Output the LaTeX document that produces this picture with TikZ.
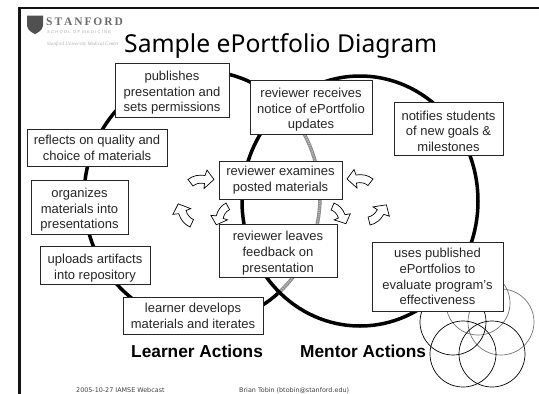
\documentclass[tikz,border=0pt]{standalone}
\usepackage{fontspec}
\setmainfont{Liberation Sans}
\newfontfamily\titlefont{Noto Sans}
\newfontfamily\logofont{Liberation Serif}
\newfontfamily\footfont{DejaVu Sans}
\definecolor{ringgray}{gray}{0.55}
\definecolor{framecol}{gray}{0.08}
\definecolor{logocol}{gray}{0.42}
\definecolor{logolight}{gray}{0.68}
\newcommand{\topstrut}{\rule{0pt}{15pt}}
\tikzset{
  actionbox/.style={draw=black!85,line width=0.75pt,fill=white,align=center,inner sep=0pt,
    font=\fontsize{13}{15.8}\selectfont,text=black!85},
  ring/.style={draw=black,line width=3.5pt},
  grayring/.style={draw=ringgray,line width=3.5pt},
  grayringdash/.style={draw=black!25,line width=1.6pt,dash pattern=on 1pt off 1.2pt},
  venn/.style={draw=black,line width=0.7pt},
  venngray/.style={draw=black!55,line width=0.7pt},
  blockarrow/.style={draw=black,line width=0.7pt,fill=white,line join=miter},
  headlabel/.style={font=\fontsize{17.3}{20}\bfseries\selectfont,text=black,inner sep=0pt,anchor=base west},
  footlabel/.style={font=\footfont\fontsize{6.4}{8}\selectfont,text=black!75,inner sep=0pt,anchor=base west},
}
\newcommand{\arrowshape}{(0,0) .. controls (5,-4) and (11,-5) .. (17,-4) -- (19,-9.5) -- (26,0) -- (16,9) -- (16.5,4) .. controls (12,3) and (8,4) .. (5,6.5) -- cycle}
\begin{document}
\begin{tikzpicture}[x=1pt,y=-1pt]
\useasboundingbox (0,0) rectangle (539,394);
% frame
\fill[framecol] (18,7) rectangle (539,9.3);
\fill[framecol] (18,7) rectangle (20.6,394);
% logo
\fill[logocol!75!black] (27,15.5) -- (43,15.5) -- (43,26) .. controls (42,31) and (37,33) .. (35,34) .. controls (33,33) and (28,31) .. (27,26) -- cycle;
\node[inner sep=0pt,anchor=base west,text=logocol] (logoa) at (46,25.5) {\logofont\bfseries\fontsize{11.5}{12}\selectfont S\,T\,A\,N\,F\,O\,R\,D};
\node[inner sep=0pt,anchor=base west,text=logolight] (logob) at (47,33) {\fontsize{4.2}{5}\selectfont S C H O O L\ \ O F\ \ M E D I C I N E};
\node[inner sep=0pt,anchor=base west,text=logolight] (logoc) at (47,45) {\logofont\itshape\fontsize{5}{6}\selectfont Stanford University Medical Center};
% title
\node[inner sep=0pt,anchor=base west,text=black] (title) at (124,52.5) {\titlefont\fontsize{24.7}{30}\selectfont Sample ePortfolio Diagram};
% rings
\draw[grayring] plot[domain=-50:35,samples=40] ({202+118*cos(\x)},{197-126*sin(\x)});
\draw[grayringdash] plot[domain=-50:35,samples=40] ({202+118*cos(\x)},{197-126*sin(\x)});
\draw[ring] plot[domain=35:310,samples=120] ({202+118*cos(\x)},{197-126*sin(\x)});
\draw[ring] (360,201) ellipse [x radius=118,y radius=125];
% venn
\draw[venngray] (478,303) circle (32);
\draw[venngray] (501,322) circle (33);
\draw[venn] (453,322) circle (33);
\draw[venn] (463,354) circle (33);
\draw[venn] (492,354) circle (33);
% boxes
\node[actionbox,minimum width=114pt,minimum height=54pt] (publishes) at (172,90) {\topstrut publishes\\presentation and\\sets permissions};
\node[actionbox,minimum width=140pt,minimum height=37pt] (reflects) at (97,147.5) {reflects on quality and\\choice of materials};
\node[actionbox,minimum width=97pt,minimum height=54pt] (organizes) at (79.5,207) {\topstrut organizes\\materials into\\presentations};
\node[actionbox,minimum width=110pt,minimum height=38pt] (uploads) at (95,265) {\topstrut uploads artifacts\\into repository};
\node[actionbox,minimum width=140pt,minimum height=37pt] (develops) at (193,315.5) {learner develops\\materials and iterates};
\node[actionbox,minimum width=122pt,minimum height=54pt] (receives) at (311,107) {\topstrut reviewer receives\\notice of ePortfolio\\updates};
\node[actionbox,minimum width=109pt,minimum height=53pt] (notifies) at (448.5,128.5) {\topstrut notifies students\\of new goals \&\\milestones};
\node[actionbox,minimum width=118pt,minimum height=53pt] (leaves) at (278,250.5) {\topstrut reviewer leaves\\feedback on\\presentation};
\node[actionbox,minimum width=123pt,minimum height=38pt] (examines) at (280.5,180) {reviewer examines\\posted materials};
\node[actionbox,minimum width=131pt,minimum height=69pt] (uses) at (437.5,276.5) {uses published\\ePortfolios to\\evaluate program’s\\effectiveness};
% block arrows
\draw[blockarrow,shift={(188,179.5)}] \arrowshape;
\draw[blockarrow,shift={(373,179)},xscale=-1] \arrowshape;
\draw[blockarrow,shift={(190,227)},rotate=117] \arrowshape;
\draw[blockarrow,shift={(370,225)},rotate=51,yscale=-1] \arrowshape;
\draw[blockarrow,shift={(226,203)},rotate=-114,scale=0.92,yscale=-1] \arrowshape;
\draw[blockarrow,shift={(334,203)},rotate=-60,scale=0.92] \arrowshape;
% labels
\node[headlabel] (learner) at (131,357) {Learner Actions};
\node[headlabel] (mentor) at (300,357) {Mentor Actions};
\node[footlabel] (footl) at (76,392) {2005-10-27 IAMSE Webcast};
\node[footlabel] (footr) at (239,392) {Brian Tobin (btobin@stanford.edu)};
\end{tikzpicture}
\end{document}
